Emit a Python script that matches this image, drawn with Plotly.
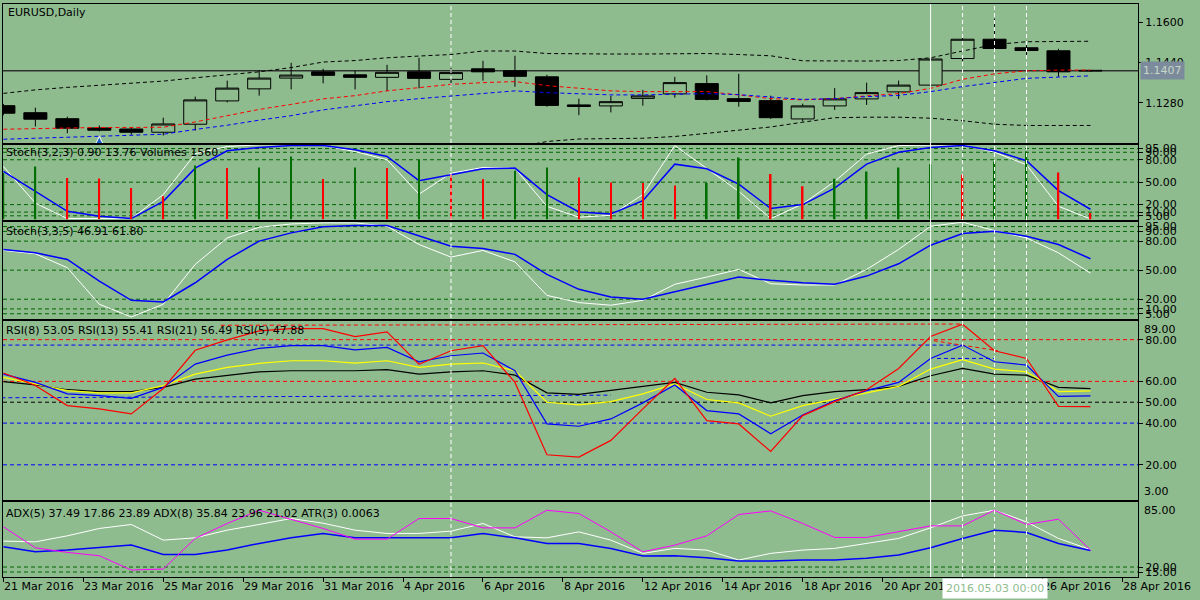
import plotly.graph_objects as go

BG = "#8FBC8F"
FONT = "DejaVu Sans"

# ---------------- data ----------------
bar_index = list(range(35))
opens = [1.1268, 1.1240, 1.1216, 1.1179, 1.1175, 1.1162, 1.1194, 1.1287, 1.1335, 1.1378,
         1.1403, 1.1391, 1.1381, 1.1403, 1.1373, 1.1415, 1.1407, 1.1383, 1.1271, 1.1267,
         1.1297, 1.1315, 1.1356, 1.1296, 1.1288, 1.1215, 1.1267, 1.1295, 1.1323, 1.1350,
         1.1456, 1.1533, 1.1499, 1.1487, 1.1409]
highs = [1.1275, 1.1260, 1.1224, 1.1189, 1.1181, 1.1220, 1.1304, 1.1368, 1.1410, 1.1439,
         1.1415, 1.1407, 1.1431, 1.1459, 1.1418, 1.1447, 1.1467, 1.1391, 1.1296, 1.1307,
         1.1331, 1.1383, 1.1389, 1.1395, 1.1308, 1.1276, 1.1338, 1.1360, 1.1368, 1.1459,
         1.1540, 1.1615, 1.1527, 1.1495, 1.1410]
lows = [1.1230, 1.1185, 1.1158, 1.1165, 1.1152, 1.1149, 1.1168, 1.1281, 1.1308, 1.1333,
        1.1357, 1.1333, 1.1327, 1.1337, 1.1346, 1.1368, 1.1344, 1.1264, 1.1230, 1.1241,
        1.1268, 1.1300, 1.1289, 1.1264, 1.1215, 1.1205, 1.1251, 1.1271, 1.1295, 1.1333,
        1.1446, 1.1494, 1.1466, 1.1383, 1.1403]
closes = [1.1238, 1.1214, 1.1178, 1.1170, 1.1162, 1.1195, 1.1291, 1.1338, 1.1378, 1.1390,
          1.1389, 1.1381, 1.1401, 1.1377, 1.1400, 1.1403, 1.1385, 1.1269, 1.1265, 1.1284,
          1.1307, 1.1360, 1.1293, 1.1285, 1.1220, 1.1267, 1.1295, 1.1320, 1.1350, 1.1454,
          1.1533, 1.1496, 1.1488, 1.1403, 1.1407]
upper_band = [1.1317, 1.1331, 1.1341, 1.1350, 1.1360, 1.1366, 1.1379, 1.1390, 1.1403, 1.1420,
              1.1442, 1.1448, 1.1459, 1.1466, 1.1472, 1.1486, 1.1486, 1.1476, 1.1474, 1.1474,
              1.1474, 1.1476, 1.1476, 1.1472, 1.1467, 1.1447, 1.1446, 1.1446, 1.1448, 1.1459,
              1.1486, 1.1512, 1.1523, 1.1525, 1.1525]
lower_band = [None, None, None, None, None, None, None, None, None, None,
              None, None, None, None, None, None, 1.1101, 1.1125, 1.1135, 1.1137,
              1.1138, 1.1145, 1.1157, 1.1172, 1.1183, 1.1202, 1.1220, 1.1222, 1.1222, 1.1218,
              1.1208, 1.1194, 1.1189, 1.1189, 1.1189]
red_ma = [1.1174, 1.1177, 1.1178, 1.1181, 1.1181, 1.1182, 1.1203, 1.1228, 1.1253, 1.1273,
          1.1295, 1.1308, 1.1327, 1.1340, 1.1353, 1.1360, 1.1364, 1.1348, 1.1337, 1.1327,
          1.1324, 1.1325, 1.1324, 1.1311, 1.1296, 1.1291, 1.1296, 1.1307, 1.1316, 1.1337,
          1.1373, 1.1395, 1.1407, 1.1410, 1.1410]
blue_ma = [1.1134, 1.1138, 1.1144, 1.1149, 1.1152, 1.1154, 1.1173, 1.1190, 1.1210, 1.1228,
           1.1251, 1.1267, 1.1284, 1.1296, 1.1307, 1.1317, 1.1327, 1.1320, 1.1315, 1.1311,
           1.1311, 1.1315, 1.1316, 1.1312, 1.1302, 1.1293, 1.1296, 1.1304, 1.1309, 1.1324,
           1.1344, 1.1361, 1.1377, 1.1382, 1.1387]
arrow_bars = [3]
arrow_prices = [1.1145]
current_price = 1.1407

volumes = [11000, 12580, 9820, 9700, 7460, 5500, 12810, 12180, 12340, 14940,
           9580, 12340, 12180, 14160, 10620, 9580, 11560, 12340, 9980, 8800,
           8640, 8090, 8640, 14700, 10760, 7860, 9680, 11400, 12340, 13120,
           10620, 13760, 16120, 11160, 1560]
stoch1_main = [71, 22, 1.3, 1.3, 1.3, 33.3, 88, 97.7, 100, 100,
               99, 91, 80, 34, 62, 69.7, 68.8, 17.7, 3.1, 5.7,
               33.3, 99, 68.8, 37.7, 1.3, 20.8, 51, 87.5, 99, 99.7,
               100, 90.1, 73.3, 17.7, 0.90]
stoch1_signal = [64.4, 37.7, 11, 4.4, 1.3, 24.4, 68.8, 92, 96.4, 99,
                 99, 93.3, 84.4, 52, 60, 68, 68.8, 33.3, 10.1, 7.5,
                 25.3, 74.1, 68, 47.5, 14.7, 20, 42.1, 74.1, 90.1, 96.4,
                 99, 92, 78.7, 38.7, 13.76]
stoch2_main = [70.4, 66.9, 52.5, 14.8, 1.7, 14.8, 56, 83.3, 94.3, 97.7,
               98.8, 98.8, 95.4, 76.5, 63.5, 70.4, 58.6, 24, 16.5, 13.8,
               18.9, 35.4, 42.9, 50.8, 36, 34.7, 34.7, 50.8, 71.4, 95.4,
               99.5, 90.9, 83.3, 67.9, 46.91]
stoch2_signal = [71.4, 67.9, 61.1, 38.8, 18.9, 17.2, 37, 61.1, 80, 88.5,
                 94.7, 96.1, 96.1, 85.1, 74.8, 72.4, 66.3, 45.7, 30.2, 22.3,
                 20, 27.8, 35.4, 42.9, 39.5, 37, 35.4, 43.9, 56.6, 75.8,
                 87.9, 90.2, 85.1, 76.5, 61.80]
rsi8 = [63.5, 59.5, 54, 53.2, 51.9, 57.1, 68.3, 72.6, 75.8, 77.1,
        77.1, 75.1, 76.3, 69.4, 72.3, 73.6, 65.1, 39.6, 38.5, 42,
        49.7, 58.3, 46, 44.4, 34.9, 43.9, 50.8, 55.6, 59.5, 71,
        77.4, 69.4, 67.8, 52.8, 53.05]
rsi13 = [61.9, 58.8, 55.6, 54.5, 54.5, 58, 63.5, 66.7, 68.6, 69.9,
         69.9, 68.8, 69.9, 66.7, 68.3, 68.8, 65.1, 50, 48.7, 50.3,
         54, 58.8, 51.3, 49.7, 43.3, 48.4, 51.6, 54.5, 57.6, 65.9,
         70.4, 65.9, 64.6, 55.1, 55.41]
rsi21 = [59.9, 58.3, 56, 55.1, 55.1, 57.1, 61.1, 63, 64.6, 65.1,
         65.1, 65.1, 65.6, 63.5, 64.6, 65.1, 63, 54.5, 53.8, 55.6,
         57.6, 59.5, 54.8, 53.5, 49.7, 53.2, 55.1, 56, 57.6, 62.7,
         66.2, 63.5, 63, 57.1, 56.49]
rsi5 = [64, 58, 48.4, 46.8, 44.4, 56.6, 74.9, 79.9, 84.2, 85.3,
        85.3, 81.5, 83.7, 68.2, 74.7, 77.1, 59.5, 24.8, 23.7, 31.7,
        46.8, 61.4, 41.2, 39.6, 26.4, 43.6, 50.3, 56, 66.2, 81.5,
        87.4, 74.7, 71, 48, 47.88]
adx_white = [46, 45.3, 51.3, 58.7, 62.7, 47, 49.3, 57, 62.7, 68.7,
             64, 57, 53.7, 53.7, 56, 63.7, 50.3, 49.3, 55.3, 47,
             33.7, 38.7, 37, 27, 33.7, 37, 38.7, 43.7, 48.7, 59.3,
             71.3, 77, 65.3, 48.7, 37.49]
adx_blue = [40.3, 35.3, 37, 39.7, 42, 32.7, 32.7, 37, 43.7, 49.3,
            53.7, 49.3, 49.3, 49.3, 49.3, 53.7, 49.3, 43.7, 43.7, 38.7,
            31, 31.3, 29.3, 26, 26, 27, 27, 28.7, 32, 39.3,
            48.7, 57, 54.7, 43.7, 36.5]
adx_magenta = [60.3, 39.3, 34.7, 31.3, 17, 18, 48.7, 63.7, 77, 68,
               58.7, 48, 48, 68.7, 68.7, 59.3, 59.3, 77, 73.7, 55.3,
               35.3, 42, 51.3, 72.7, 76.3, 63.7, 49.7, 49.7, 55.3, 61.3,
               61.3, 77, 62.7, 68, 37]

stoch_levels = [95, 90, 80, 50, 20, 10, 5]
rsi_levels = [80, 60, 50, 40, 20]
rsi_level_colors = ["#FF0000", "#FF0000", "#000000", "#0000FF", "#0000FF"]
adx_levels = [20, 15]
# drawn trend lines on RSI window: (bar0, value0, bar1, value1, colour)
rsi_trendlines = [(-0.5, 77.4, 30.0, 77.4, "#0000FF"),
                  (6.8, 86.9, 30.0, 87.5, "#FF0000"),
                  (-0.5, 52.1, 19.0, 53.4, "#0000FF"),
                  (29.2, 71.0, 31.0, 71.0, "#0000FF"),
                  (29.1, 79.5, 31.1, 74.7, "#FF0000")]

price_ticks = [1.1600, 1.1440, 1.1280]
x_tick_labels = ["21 Mar 2016", "23 Mar 2016", "25 Mar 2016", "29 Mar 2016", "31 Mar 2016",
                 "4 Apr 2016", "6 Apr 2016", "8 Apr 2016", "12 Apr 2016", "14 Apr 2016",
                 "18 Apr 2016", "20 Apr 2016", "22 Apr 2016", "26 Apr 2016", "28 Apr 2016"]
x_tick_step = 2.5  # bars between time labels

event_bars = [14, 29, 30, 31, 32]
event_dash = ["4px,3px", "solid", "4px,3px", "4px,3px", "4px,3px"]
crosshair_text = "2016.05.03 00:00"
crosshair_bar = 31

titles = ["EURUSD,Daily",
          "Stoch(3,2,3) 0.90 13.76 Volumes 1560",
          "Stoch(3,3,5) 46.91 61.80",
          "RSI(8) 53.05 RSI(13) 55.41 RSI(21) 56.49 RSI(5) 47.88",
          "ADX(5) 37.49 17.86 23.89 ADX(8) 35.84 23.96 21.02 ATR(3) 0.0063"]

# ---------------- layout geometry ----------------
W, H = 1200, 600
ML, MR, MT, MB = 2, 62, 2, 23
PLOT_H = H - MT - MB
BOTTOM = H - MB


def dom(top_px, bot_px):
    return [(BOTTOM - bot_px) / PLOT_H, (BOTTOM - top_px) / PLOT_H]


x_range = [-0.0125, 35.4875]
vol_top = 17700

fig = go.Figure()

# main window
fig.add_trace(go.Candlestick(
    x=bar_index, open=opens, high=highs, low=lows, close=closes,
    increasing=dict(line=dict(color="black", width=1), fillcolor=BG),
    decreasing=dict(line=dict(color="black", width=1), fillcolor="black"),
    whiskerwidth=0, xaxis="x", yaxis="y", hoverinfo="skip"))
for series, col in [(upper_band, "black"), (lower_band, "black"), (red_ma, "#FF0000"), (blue_ma, "#0000FF")]:
    fig.add_trace(go.Scatter(x=bar_index, y=series, mode="lines", xaxis="x", yaxis="y",
                             line=dict(color=col, width=1, dash="4px,3px"), hoverinfo="skip"))
fig.add_trace(go.Scatter(x=arrow_bars, y=arrow_prices, mode="markers", xaxis="x", yaxis="y",
                         marker=dict(symbol="arrow-up", size=10, color="#1E5CC8",
                                     line=dict(color="white", width=1)), hoverinfo="skip"))

# stochastic 1 + volumes
vol_colors = ["#006E00"] + ["#006E00" if volumes[i] > volumes[i - 1] else "#FF0000"
                            for i in range(1, len(volumes))]
fig.add_trace(go.Bar(x=bar_index, y=volumes, width=0.05, marker=dict(color=vol_colors, line=dict(width=0)),
                     xaxis="x2", yaxis="y6", hoverinfo="skip"))
fig.add_trace(go.Scatter(x=bar_index, y=stoch1_main, mode="lines", xaxis="x2", yaxis="y2",
                         line=dict(color="white", width=1), hoverinfo="skip"))
fig.add_trace(go.Scatter(x=bar_index, y=stoch1_signal, mode="lines", xaxis="x2", yaxis="y2",
                         line=dict(color="#0000FF", width=1.5), hoverinfo="skip"))

# stochastic 2
fig.add_trace(go.Scatter(x=bar_index, y=stoch2_main, mode="lines", xaxis="x3", yaxis="y3",
                         line=dict(color="white", width=1), hoverinfo="skip"))
fig.add_trace(go.Scatter(x=bar_index, y=stoch2_signal, mode="lines", xaxis="x3", yaxis="y3",
                         line=dict(color="#0000FF", width=1.5), hoverinfo="skip"))

# RSI
for series, col in [(rsi21, "black"), (rsi13, "#FFFF00"), (rsi8, "#0000FF"), (rsi5, "#FF0000")]:
    fig.add_trace(go.Scatter(x=bar_index, y=series, mode="lines", xaxis="x4", yaxis="y4",
                             line=dict(color=col, width=1.2), hoverinfo="skip"))

# ADX
for series, col, w in [(adx_white, "white", 1), (adx_blue, "#0000FF", 1.5), (adx_magenta, "#FF00FF", 1)]:
    fig.add_trace(go.Scatter(x=bar_index, y=series, mode="lines", xaxis="x5", yaxis="y5",
                             line=dict(color=col, width=w), hoverinfo="skip"))

shapes = []
LVL_GREEN = "#006400"
for lv in stoch_levels:
    for xa, ya in [("x2", "y2"), ("x3", "y3")]:
        shapes.append(dict(type="line", xref=f"{xa} domain", yref=ya, x0=0, x1=1, y0=lv, y1=lv,
                           line=dict(color=LVL_GREEN, width=1, dash="4px,3px"), layer="below"))
for lv, col in zip(rsi_levels, rsi_level_colors):
    shapes.append(dict(type="line", xref="x4 domain", yref="y4", x0=0, x1=1, y0=lv, y1=lv,
                       line=dict(color=col, width=1, dash="4px,3px"), layer="below"))
for b0, v0, b1, v1, col in rsi_trendlines:
    shapes.append(dict(type="line", xref="x4", yref="y4", x0=b0, x1=b1, y0=v0, y1=v1,
                       line=dict(color=col, width=1, dash="4px,3px"), layer="below"))
for lv in adx_levels:
    shapes.append(dict(type="line", xref="x5 domain", yref="y5", x0=0, x1=1, y0=lv, y1=lv,
                       line=dict(color=LVL_GREEN, width=1, dash="4px,3px"), layer="below"))
shapes.append(dict(type="line", xref="x domain", yref="y", x0=0, x1=1, y0=current_price, y1=current_price,
                   line=dict(color="#303030", width=1.5), layer="below"))
for b, d in zip(event_bars, event_dash):
    shapes.append(dict(type="line", xref="x", yref="paper", x0=b, x1=b, y0=0, y1=1,
                       line=dict(color="white", width=1, dash=d), layer="above"))

annotations = []
title_axes = ["y", "y2", "y3", "y4", "y5"]
title_shift = [(3, 0), (1, 1), (1, -1), (1, -1), (1, -3)]
for t, ya, (xs, ys) in zip(titles, title_axes, title_shift):
    annotations.append(dict(text=t, xref="paper", yref=f"{ya} domain", x=0, y=1, xanchor="left", yanchor="top",
                            xshift=xs, yshift=ys, showarrow=False, font=dict(family=FONT, size=11, color="black")))

# min / max labels of indicator windows
edge_labels = [("y4", 89, "89.00", "top"), ("y4", 3, "3.00", "bottom"), ("y5", 85, "85.00", "top")]
for ya, v, txt, anc in edge_labels:
    annotations.append(dict(text=txt, xref="paper", yref=ya, x=1, y=v, xanchor="left", yanchor=anc,
                            xshift=4, showarrow=False, font=dict(family=FONT, size=11, color="black")))

# current price box
annotations.append(dict(text=f"{current_price:.4f}", xref="paper", yref="y", x=1, y=current_price,
                        xanchor="left", yanchor="middle", xshift=2, showarrow=False, bgcolor="#7B8B9B",
                        borderpad=2, font=dict(family=FONT, size=11, color="#C8D6C8")))

# time labels
for k, lab in enumerate(x_tick_labels):
    annotations.append(dict(text=lab, xref="x5", yref="paper", x=k * x_tick_step, y=(BOTTOM - 587) / PLOT_H,
                            xanchor="left", yanchor="middle", xshift=-1, showarrow=False,
                            font=dict(family=FONT, size=11, color="black")))
annotations.append(dict(text=crosshair_text, xref="x5", yref="paper", x=crosshair_bar, y=(BOTTOM - 589) / PLOT_H,
                        xanchor="center", yanchor="middle", showarrow=False, bgcolor="white", borderpad=3,
                        font=dict(family=FONT, size=11, color=BG)))

ax = dict(showgrid=False, zeroline=False, showline=True, linecolor="black", linewidth=1, mirror=True)
yt = dict(side="right", ticks="outside", ticklen=4, tickcolor="black", tickfont=dict(family=FONT, size=11, color="black"))

fig.update_layout(
    width=W, height=H, margin=dict(l=ML, r=MR, t=MT, b=MB),
    paper_bgcolor=BG, plot_bgcolor=BG, showlegend=False, barmode="overlay",
    boxgap=0.28, boxgroupgap=0,
    font=dict(family=FONT, size=11, color="black"),
    xaxis=dict(**ax, range=x_range, anchor="y", ticks="", showticklabels=False, rangeslider=dict(visible=False)),
    xaxis2=dict(**ax, range=x_range, matches="x", anchor="y2", ticks="", showticklabels=False),
    xaxis3=dict(**ax, range=x_range, matches="x", anchor="y3", ticks="", showticklabels=False),
    xaxis4=dict(**ax, range=x_range, matches="x", anchor="y4", ticks="", showticklabels=False),
    xaxis5=dict(**ax, range=x_range, matches="x", anchor="y5", ticks="outside", ticklen=4, tickcolor="black",
                tickvals=[k * x_tick_step for k in range(len(x_tick_labels))], showticklabels=False),
    yaxis=dict(**ax, **yt, domain=dom(2, 141.5), range=[1.1119, 1.16736], anchor="x",
               tickvals=price_ticks, tickformat=".4f"),
    yaxis2=dict(**ax, **yt, domain=dom(143.3, 218.3), range=[0, 100], anchor="x2",
                tickvals=stoch_levels, tickformat=".2f"),
    yaxis3=dict(**ax, **yt, domain=dom(220.5, 317.7), range=[0, 100], anchor="x3",
                tickvals=stoch_levels, tickformat=".2f"),
    yaxis4=dict(**ax, **yt, domain=dom(320, 500), range=[3, 89], anchor="x4",
                tickvals=rsi_levels, tickformat=".2f"),
    yaxis5=dict(**ax, **yt, domain=dom(502, 577), range=[10, 85], anchor="x5",
                tickvals=adx_levels, tickformat=".2f"),
    yaxis6=dict(overlaying="y2", anchor="x2", range=[0, vol_top], visible=False,
                showgrid=False, zeroline=False),
    shapes=shapes, annotations=annotations,
)

fig.write_html("out.html", config={"displayModeBar": False},
               post_script="document.body.style.margin='0';document.body.style.overflow='hidden';")
